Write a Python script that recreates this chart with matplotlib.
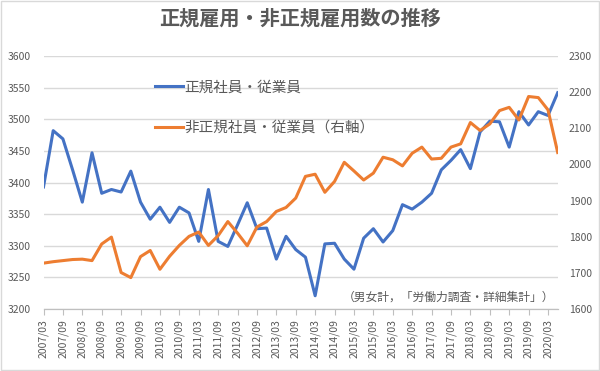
import numpy as np
import matplotlib
matplotlib.use("Agg")
import matplotlib.pyplot as plt
from matplotlib.patches import Rectangle

plt.rcParams['font.family'] = ['Noto Sans CJK JP', 'DejaVu Sans']


# Quarterly data, 2007/03 .. 2020/06 (10k persons)
quarters = [f"{y}/{m:02d}" for y in range(2007, 2021) for m in (3, 6, 9, 12)][:54]

regular = [3393, 3482, 3469, 3420, 3369, 3447, 3383, 3389, 3385, 3418,
           3369, 3342, 3361, 3337, 3361, 3352, 3307, 3389, 3307, 3299,
           3333, 3368, 3327, 3328, 3279, 3315, 3294, 3282, 3221, 3303,
           3304, 3279, 3263, 3312, 3327, 3306, 3324, 3365, 3358, 3369,
           3383, 3420, 3435, 3452, 3422, 3480, 3497, 3496, 3456, 3512,
           3491, 3512, 3506, 3542]

non_regular = [1727, 1731, 1734, 1737, 1738, 1734, 1780, 1799, 1701, 1687,
               1745, 1762, 1710, 1746, 1776, 1801, 1813, 1776, 1803, 1842,
               1810, 1775, 1827, 1842, 1870, 1881, 1907, 1967, 1973, 1923,
               1953, 2006, 1982, 1957, 1976, 2020, 2013, 1996, 2031, 2048,
               2015, 2017, 2048, 2057, 2116, 2094, 2112, 2149, 2158, 2123,
               2188, 2185, 2151, 2033]

title = "正規雇用・非正規雇用数の推移"
label_regular = "正規社員・従業員"
label_non_regular = "非正規社員・従業員（右軸）"
note = "（男女計，「労働力調査・詳細集計」）"

blue = "#4472C4"
orange = "#ED7D31"
text_gray = "#595959"
grid_gray = "#D9D9D9"


fig = plt.figure(figsize=(6, 3.71), dpi=100)
ax = fig.add_axes([0.0725, 0.167, 0.857, 0.682])
ax2 = ax.twinx()

x = np.arange(len(quarters))

l1, = ax.plot(x, regular, color=blue, lw=2.2, label=label_regular)
l2, = ax2.plot(x, non_regular, color=orange, lw=2.2, label=label_non_regular)

ax.set_xlim(0, len(quarters) - 1)
ax.set_ylim(3200, 3600)
ax2.set_ylim(1600, 2300)
ax.set_yticks(np.arange(3200, 3601, 50))
ax2.set_yticks(np.arange(1600, 2301, 100))

ax.set_xticks(x[::2])
ax.set_xticklabels(quarters[::2], rotation=90)

ax.grid(axis='y', color=grid_gray, lw=1)
ax.set_axisbelow(True)

for a in (ax, ax2):
    for s in ("top", "left", "right"):
        a.spines[s].set_visible(False)
    a.spines["bottom"].set_color("#BFBFBF")

ax.tick_params(axis='y', length=0, pad=9, labelsize=7.5, labelcolor=text_gray)
ax2.tick_params(axis='y', length=0, pad=8, labelsize=7.5, labelcolor=text_gray)
ax.tick_params(axis='x', length=4, color="#BFBFBF", pad=3,
               labelsize=7.5, labelcolor=text_gray)

ax2.legend(handles=[l1, l2], loc="upper left", bbox_to_anchor=(0.192, 0.955),
           frameon=False, fontsize=10.5, labelcolor=text_gray,
           handlelength=1.9, handletextpad=0.1, labelspacing=1.8)

fig.text(0.5, 0.952, title, ha="center", va="center", fontsize=14.5,
         fontweight="bold", color=text_gray)
fig.text(0.572, 0.2, note, ha="left", va="center", fontsize=8.5,
         color=text_gray)

fig.patches.append(Rectangle((0.001, 0.002), 0.997, 0.995, transform=fig.transFigure,
                             fill=False, edgecolor="#D9D9D9", lw=1))

fig.savefig("out.png", dpi=100)
